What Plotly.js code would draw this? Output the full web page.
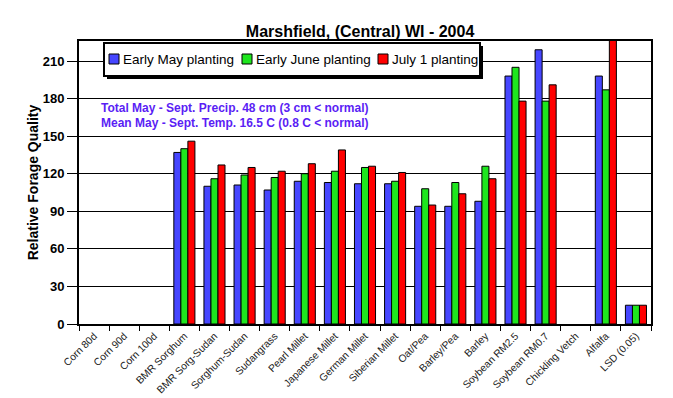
<!DOCTYPE html>
<html><head><meta charset="utf-8">
<script src="https://cdn.plot.ly/plotly-3.0.1.min.js"></script>
<style>html,body{margin:0;padding:0;background:#fff}#c{width:673px;height:398px}</style>
</head><body><div id="c"></div>
<script>
var categories = ["Corn 80d","Corn 90d","Corn 100d","BMR Sorghum","BMR Sorg-Sudan","Sorghum-Sudan","Sudangrass","Pearl Millet","Japanese Millet","German Millet","Siberian Millet","Oat/Pea","Barley/Pea","Barley","Soybean RM2.5","Soybean RM0.7","Chickling Vetch","Alfalfa","LSD (0.05)"];
var earlyMay  = [null,null,null,137,110,111,107,114,113,112,112,94,94,98,198,219,null,198,15];
var earlyJune = [null,null,null,140,116,119,117,120,122,125,114,108,113,126,205,178,null,187,15];
var july1     = [null,null,null,146,127,125,122,128,139,126,121,95,104,116,178,191,null,230,15];
var seriesNames = ["Early May planting","Early June planting","July 1 planting"];
var seriesColors = ["#4646ff","#1ee61e","#ff0000"];
var yTicks = [0,30,60,90,120,150,180,210];

var data = [earlyMay, earlyJune, july1].map(function(v,i){
  return {type:'bar', x:categories, y:v, name:seriesNames[i], showlegend:false,
    marker:{color:seriesColors[i], line:{color:'#000', width:1}}};
});

// pixel -> paper helpers (plot area 79..651 x, 41..324 y)
function px(x){return (x-79)/572;}
function py(y){return (324-y)/283;}

var shapes = [
  {type:'rect', xref:'paper', yref:'paper', x0:px(107), x1:px(483), y0:py(79), y1:py(46), fillcolor:'#000', line:{width:0}, layer:'above'},
  {type:'rect', xref:'paper', yref:'paper', x0:px(104), x1:px(480), y0:py(76), y1:py(43), fillcolor:'#fff', line:{color:'#000', width:2}, layer:'above'}
];
var legX = [109, 242, 378];
var legTextX = [121, 254, 390];
var annotations = [];
seriesNames.forEach(function(n,i){
  shapes.push({type:'rect', xref:'paper', yref:'paper', x0:px(legX[i]), x1:px(legX[i]+10), y0:py(64), y1:py(54),
    fillcolor:seriesColors[i], line:{color:'#000', width:1}, layer:'above'});
  annotations.push({xref:'paper', yref:'paper', x:px(legTextX[i]), y:py(59.5), xanchor:'left', yanchor:'middle',
    showarrow:false, text:n, font:{size:13.5, color:'#000'}});
});
annotations.push(
  {xref:'paper', yref:'paper', x:px(235), y:py(108), xanchor:'center', yanchor:'middle', showarrow:false,
   text:'<b>Total May - Sept. Precip. 48 cm (3 cm &lt; normal)</b>', font:{size:12, color:'#5a1ef5'}},
  {xref:'paper', yref:'paper', x:px(235), y:py(123.5), xanchor:'center', yanchor:'middle', showarrow:false,
   text:'<b>Mean May - Sept. Temp. 16.5 C (0.8 C &lt; normal)</b>', font:{size:12, color:'#5a1ef5'}}
);

var layout = {
  width:673, height:398,
  margin:{l:79, r:22, t:41, b:74},
  paper_bgcolor:'#fff', plot_bgcolor:'#fff',
  font:{family:'Liberation Sans, Arial, sans-serif', color:'#000'},
  title:{text:'<b>Marshfield, (Central) WI - 2004</b>', font:{size:16, color:'#000'}, x:0.535, xanchor:'center', xref:'container', yref:'container', y:1-31/398, yanchor:'middle'},
  barmode:'group', bargap:0.3, bargroupgap:0,
  showlegend:false,
  xaxis:{type:'category', tickson:'boundaries', ticks:'outside', ticklen:5, tickcolor:'#000',
    tickangle:-45, tickfont:{size:10.3, color:'#222'}, showline:true, linecolor:'#000', linewidth:2,
    mirror:true, showgrid:false, zeroline:false, automargin:false},
  yaxis:{range:[0,226], tickvals:yTicks, ticktext:yTicks.map(function(t){return '<b>'+t+'</b>';}),
    ticks:'outside', ticklen:10, tickcolor:'#000', tickfont:{size:13, color:'#000'},
    showgrid:true, gridcolor:'#000', gridwidth:1, showline:true, linecolor:'#000', linewidth:2,
    mirror:true, zeroline:false, automargin:false,
    title:{text:'<b>Relative Forage Quality</b>', font:{size:14, color:'#000'}, standoff:1}},
  shapes:shapes,
  annotations:annotations
};
Plotly.newPlot('c', data, layout, {displayModeBar:false, staticPlot:true});
</script></body></html>
